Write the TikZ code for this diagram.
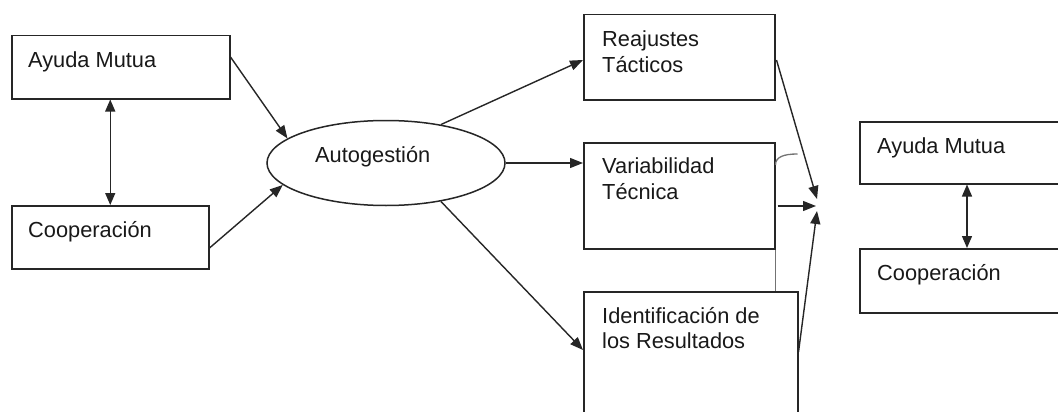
\documentclass[tikz,border=0pt]{standalone}
\usepackage{fontspec}
\setmainfont{Liberation Sans}
\usetikzlibrary{arrows.meta,shapes.geometric,calc}
\tikzset{
  boxnode/.style={draw=black!85, line width=1.5pt, rectangle, inner sep=0pt, anchor=north west},
  lbl/.style={anchor=base west, inner sep=0pt, font=\fontsize{21.8}{25.5}\selectfont, align=left, text=black!90},
  conn/.style={line width=1.4pt, draw=black!85, -{Triangle[length=13pt,width=10pt]}},
  dconn/.style={line width=1.4pt, draw=black!85, {Triangle[length=12pt,width=10pt]}-{Triangle[length=12pt,width=10pt]}},
  thin/.style={line width=1.3pt, draw=black!55}
}
\begin{document}
\begin{tikzpicture}[x=1pt,y=-1pt]
\clip (0,0) rectangle (1058,412);
\fill[white] (0,0) rectangle (1058,412);
% left boxes
\node[boxnode, minimum width=218pt, minimum height=63pt] (la) at (11,35) {};
\node[lbl] (lat) at (28,68) {Ayuda Mutua};
\node[boxnode, minimum width=197pt, minimum height=63pt] (lc) at (11,205) {};
\node[lbl] (lct) at (28,237) {Cooperación};
% ellipse
\node[draw=black!85, line width=1.5pt, ellipse, minimum width=238pt, minimum height=85pt, inner sep=0pt] (auto) at (386,163) {};
\node[lbl] (autot) at (315,162) {Autogestión};
% middle boxes
\node[boxnode, minimum width=191pt, minimum height=85pt] (ra) at (583,14) {};
\node[lbl] (rat) at (602,72.5) {Reajustes\\Tácticos};
\node[boxnode, minimum width=191pt, minimum height=106pt] (va) at (583,142) {};
\node[lbl] (vat) at (602,199) {Variabilidad\\Técnica};
\node[boxnode, minimum width=214pt, minimum height=135pt] (ia) at (583,291) {};
\node[lbl] (iat) at (602,348.5) {Identificación de\\los Resultados};
% right boxes
\node[boxnode, minimum width=210pt, minimum height=62pt] (rb) at (859,121) {};
\node[lbl] (rbt) at (877,153) {Ayuda Mutua};
\node[boxnode, minimum width=210pt, minimum height=64pt] (rc) at (859,248) {};
\node[lbl] (rct) at (877,280) {Cooperación};
% convergence point
\coordinate (cv) at (816,206);
% connectors left
\draw[dconn] (lc.north) -- (lc.north |- la.south);
\draw[conn] ($(la.north east)+(0,22)$) -- (auto.166.5);
\draw[conn] ($(lc.north east)+(0,43)$) -- (auto.192.5);
% from ellipse
\draw[conn] (auto.35) -- ($(ra.north west)+(0,46)$);
\draw[conn] (auto.east) -- (auto.east -| va.west);
\draw[conn] (auto.-35) -- ($(ia.north west)+(0,59)$);
% converging
\draw[conn] ($(ra.north east)+(1,46)$) -- ($(cv)+(1,-7)$);
\draw[conn] ($(va.north east)+(2,64)$) -- (cv);
\draw[conn] ($(ia.north east)+(0,61)$) -- ($(cv)+(1,5)$);
% small hop arc and gray link
\draw[thin] ($(va.north east)+(0,23)$) .. controls ($(va.north east)+(0,15)$) and ($(va.north east)+(8,12)$) .. ($(va.north east)+(22,12)$);
\draw[thin] (va.south east) -- (va.south east |- ia.north);
% right double arrow
\draw[dconn] ($(rb.south west)+(108,0)$) -- ($(rc.north west)+(108,0)$);
\end{tikzpicture}
\end{document}
